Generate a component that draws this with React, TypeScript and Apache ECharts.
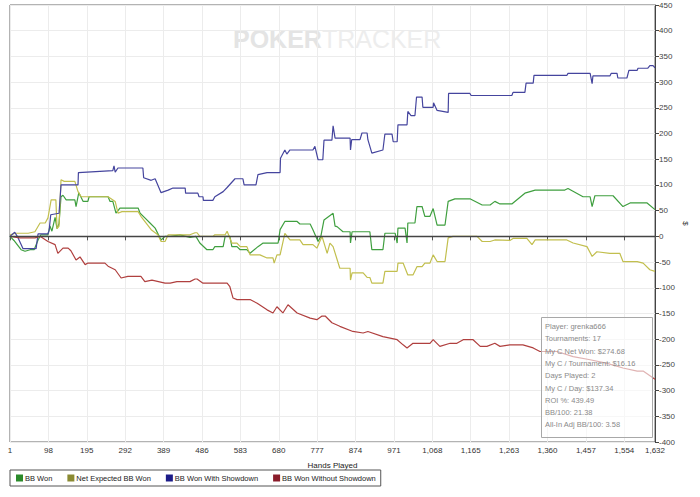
import React, { useEffect, useRef } from "react";
import * as echarts from "echarts";

const xTickLabels = ["1", "98", "195", "292", "389", "486", "583", "680", "777", "874", "971", "1,068", "1,165", "1,263", "1,360", "1,457", "1,554", "1,632"];
const seriesNames = ["BB Won", "Net Expected BB Won", "BB Won With Showdown", "BB Won Without Showdown"];

const wonHands = [1, 11, 29, 39, 52, 62, 72, 79, 97, 102, 107, 115, 120, 125, 130, 135, 143, 165, 168, 175, 186, 198, 201, 249, 254, 261, 269, 279, 325, 330, 342, 355, 368, 383, 393, 406, 431, 456, 471, 481, 499, 514, 519, 540, 545, 557, 562, 575, 583, 600, 608, 628, 641, 679, 684, 696, 727, 734, 760, 767, 780, 787, 795, 818, 823, 828, 843, 861, 862, 866, 911, 916, 944, 949, 975, 980, 982, 1000, 1005, 1007, 1025, 1030, 1043, 1050, 1063, 1071, 1081, 1101, 1109, 1126, 1164, 1195, 1215, 1227, 1240, 1270, 1303, 1329, 1404, 1412, 1450, 1468, 1473, 1480, 1526, 1551, 1569, 1612, 1632];
const wonValues = [0, -8, -26, -29, -26, -26, -7, 3, 3, 20, 10, 37, 15, 25, 77, 80, 71, 71, 58, 85, 68, 68, 77, 77, 68, 68, 45, 55, 55, 45, 36, 26, 16, -7, 0, 0, 3, -2, 0, -13, -26, -26, -20, -20, 0, 0, -20, -20, -26, -26, -33, -20, -13, -13, 13, 29, 29, 24, 24, 13, -10, 0, 32, 45, 20, 19, 9, 9, -13, 9, 9, -26, -26, 6, 6, -13, 16, 16, -13, 26, 26, 58, 58, 39, 39, 54, 22, 22, 68, 73, 73, 61, 61, 68, 63, 63, 84, 90, 90, 93, 77, 77, 58, 79, 79, 58, 65, 65, 52];

const expHands = [1, 14, 47, 64, 77, 90, 97, 105, 117, 120, 125, 130, 138, 165, 173, 181, 249, 267, 274, 284, 325, 332, 358, 375, 383, 393, 401, 456, 469, 474, 481, 514, 519, 545, 550, 562, 575, 583, 600, 608, 633, 651, 666, 669, 676, 684, 696, 709, 734, 742, 767, 777, 790, 803, 810, 818, 835, 861, 862, 866, 894, 904, 911, 916, 944, 949, 980, 982, 995, 1007, 1020, 1030, 1043, 1050, 1063, 1071, 1081, 1101, 1109, 1121, 1182, 1195, 1215, 1227, 1265, 1273, 1308, 1321, 1329, 1409, 1425, 1460, 1473, 1485, 1518, 1543, 1551, 1587, 1602, 1619, 1632];
const expValues = [3, 6, 6, 9, 26, 26, 36, 71, 71, 15, 20, 110, 107, 107, 87, 77, 77, 68, 45, 48, 48, 39, 13, 3, -10, -10, 3, 3, 7, 7, 0, 0, 3, 3, 10, -13, -13, -20, -20, -36, -36, -42, -42, -52, -36, -36, 6, -7, -7, -16, -16, -23, 0, -33, -13, -20, -62, -62, -85, -71, -71, -80, -80, -91, -91, -68, -68, -52, -52, -75, -75, -59, -59, -52, -52, -36, -49, -49, -3, 0, 0, -10, -10, -7, -8, -4, -4, -16, -7, -7, -13, -20, -39, -30, -33, -33, -49, -49, -52, -65, -68];

const sdHands = [1, 13, 21, 34, 67, 72, 97, 100, 104, 125, 130, 173, 174, 261, 264, 267, 274, 337, 339, 358, 368, 383, 401, 413, 444, 445, 476, 479, 489, 490, 514, 519, 540, 550, 570, 590, 593, 623, 628, 651, 684, 685, 696, 701, 709, 767, 772, 780, 792, 795, 815, 818, 823, 861, 862, 865, 886, 891, 904, 906, 916, 944, 949, 967, 970, 980, 982, 1005, 1007, 1015, 1025, 1029, 1043, 1045, 1071, 1072, 1081, 1109, 1110, 1164, 1167, 1270, 1273, 1303, 1306, 1324, 1326, 1409, 1412, 1468, 1473, 1475, 1518, 1521, 1536, 1538, 1561, 1566, 1587, 1589, 1614, 1619, 1627, 1632];
const sdValues = [0, 8, -2, -24, -24, 5, 5, 12, 42, 45, 100, 100, 124, 128, 137, 125, 133, 133, 114, 109, 112, 85, 90, 94, 94, 84, 84, 77, 77, 70, 70, 77, 87, 95, 112, 112, 100, 100, 120, 124, 124, 152, 168, 160, 168, 168, 175, 149, 149, 187, 187, 215, 191, 191, 168, 188, 188, 201, 201, 188, 162, 168, 199, 199, 184, 184, 217, 217, 243, 235, 235, 271, 271, 251, 251, 260, 245, 241, 278, 278, 274, 274, 280, 280, 298, 298, 313, 313, 317, 317, 297, 312, 312, 317, 317, 308, 308, 323, 323, 327, 327, 332, 332, 328];

const nsdHands = [1, 26, 64, 77, 97, 115, 122, 135, 148, 155, 168, 178, 191, 198, 241, 249, 267, 282, 299, 332, 342, 360, 393, 406, 423, 456, 469, 474, 489, 550, 557, 565, 575, 608, 626, 651, 666, 676, 691, 704, 727, 760, 777, 790, 798, 815, 835, 868, 894, 906, 944, 980, 995, 1005, 1020, 1063, 1071, 1088, 1114, 1131, 1147, 1172, 1190, 1207, 1227, 1240, 1265, 1298, 1324, 1341, 1384, 1425, 1468, 1511, 1551, 1587, 1602, 1632];
const nsdValues = [0, -3, -3, 0, -10, -16, -33, -23, -23, -28, -46, -40, -55, -52, -52, -58, -65, -81, -78, -78, -88, -85, -91, -91, -88, -88, -83, -83, -91, -91, -98, -120, -123, -123, -130, -143, -149, -137, -149, -133, -149, -159, -162, -155, -155, -168, -175, -185, -188, -185, -195, -201, -211, -217, -208, -208, -201, -214, -208, -208, -201, -201, -214, -214, -208, -214, -211, -211, -217, -224, -224, -234, -240, -247, -256, -262, -262, -278];

const infoLines = ["Player: grenka666", "Tournaments: 17", "My C Net Won: $274.68", "My C / Tournament: $16.16", "Days Played: 2", "My C / Day: $137.34", "ROI %: 439.49", "BB/100: 21.38", "All-In Adj BB/100: 3.58"];

const lineColors = ["#3f9f3f", "#c2bf4e", "#45459e", "#b0403f"];
const iconColors = ["#2a8a2a", "#8a8a32", "#1c1c88", "#8a1c2a"];
const FONT = "'Liberation Sans', Arial, sans-serif";
const X_MAX = 1631;
const X_INT = X_MAX / 16.8;

export default function App() {
  const ref = useRef<HTMLDivElement>(null);
  useEffect(() => {
    if (!ref.current) return;
    const chart = echarts.init(ref.current, null, { renderer: "svg" });
    const sets = [
      [wonHands, wonValues],
      [expHands, expValues],
      [sdHands, sdValues],
      [nsdHands, nsdValues],
    ];
    const series: any[] = sets.map(([hs, vs], i) => ({
      name: seriesNames[i],
      type: "line",
      showSymbol: false,
      symbol: "none",
      data: hs.map((h, j) => [h - 1, vs[j]]),
      lineStyle: { color: lineColors[i], width: 1.2 },
      itemStyle: { color: iconColors[i] },
      z: 3 + i,
    }));
    series[0].markLine = {
      silent: true,
      symbol: "none",
      label: { show: false },
      lineStyle: { color: "#444", width: 1.4, type: "solid" },
      data: [{ yAxis: 0 }],
      z: 10,
    };
    const infoTop = 317;
    const infoGraphics: any[] = [
      {
        type: "rect",
        shape: { x: 541.5, y: infoTop + 0.5, width: 111, height: 120 },
        style: { fill: "rgba(255,255,255,0.6)", stroke: "#a8a8a8", lineWidth: 1 },
        z: 20,
      },
      ...infoLines.map((t, i) => ({
        type: "text",
        x: 545,
        y: infoTop + 9.5 + i * 12.3,
        style: { text: t, fill: "#8a8a8a", font: `7.5px ${FONT}`, textVerticalAlign: "middle" },
        z: 21,
      })),
    ];
    chart.setOption({
      animation: false,
      backgroundColor: "#ffffff",
      textStyle: { fontFamily: FONT },
      grid: { left: 10, right: 45, top: 5, bottom: 55, show: true, borderColor: "#666", borderWidth: 1 },
      legend: {
        left: 10,
        top: 470,
        data: seriesNames,
        icon: "rect",
        itemWidth: 7,
        itemHeight: 7,
        itemGap: 15,
        padding: [4, 5, 4, 6],
        borderColor: "#555",
        borderWidth: 1,
        textStyle: { fontSize: 7.5, color: "#222", fontFamily: FONT, padding: [0, 0, 0, -3] },
      },
      xAxis: {
        type: "value",
        min: 0,
        max: X_MAX,
        interval: X_INT,
        name: "Hands Played",
        nameLocation: "middle",
        nameGap: 19,
        nameTextStyle: { fontSize: 8, color: "#222", fontFamily: FONT },
        axisLine: { show: true, lineStyle: { color: "#555" } },
        axisTick: { show: true, length: 4, lineStyle: { color: "#555" } },
        axisLabel: {
          fontSize: 8,
          color: "#333",
          margin: 4,
          showMaxLabel: true,
          showMinLabel: true,
          formatter: (v: number) => {
            if (v >= X_MAX - 1) return xTickLabels[xTickLabels.length - 1];
            return xTickLabels[Math.round(v / X_INT)] ?? "";
          },
        },
        splitLine: { show: true, lineStyle: { color: "#ececec" } },
      },
      yAxis: {
        type: "value",
        position: "right",
        min: -400,
        max: 450,
        interval: 50,
        name: "$",
        nameLocation: "middle",
        nameGap: 26,
        nameMoveOverlap: false,
        nameRotate: -90,
        nameTextStyle: { fontSize: 8, color: "#333", fontFamily: FONT },
        axisLine: { show: true, onZero: false, lineStyle: { color: "#444" } },
        axisTick: { show: true, length: 4, lineStyle: { color: "#444" } },
        axisLabel: { fontSize: 8, color: "#444", margin: 4 },
        splitLine: { show: true, lineStyle: { color: "#ececec" } },
      },
      graphic: [
        {
          type: "text",
          x: 233,
          y: 26,
          style: {
            text: "{a|POKER}{b|TRACKER}",
            rich: {
              a: { font: `bold 25px ${FONT}`, fill: "#e4e4e4" },
              b: { font: `25px ${FONT}`, fill: "#ededed" },
            },
          },
          z: 0,
          silent: true,
        },
        ...infoGraphics,
      ],
      series,
    });
    return () => chart.dispose();
  }, []);
  return <div ref={ref} style={{ width: 700, height: 497, position: "absolute", left: 0, top: 0 }} />;
}
